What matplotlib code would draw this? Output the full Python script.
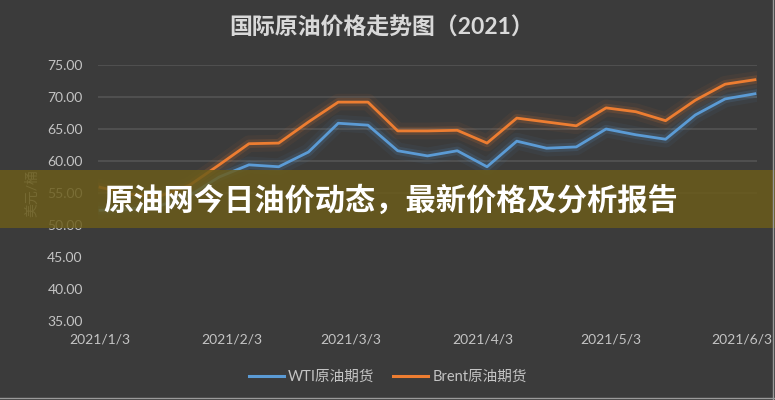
import pandas as pd
import matplotlib.pyplot as plt
import matplotlib.patheffects as pe
from matplotlib.lines import Line2D
from matplotlib.patches import Rectangle

plt.rcParams['font.family'] = ['Lato', 'Noto Sans CJK SC', 'DejaVu Sans']

# weekly closing prices, USD per barrel
dates = ['2021-01-03', '2021-01-10', '2021-01-17', '2021-01-24', '2021-01-31',
         '2021-02-07', '2021-02-14', '2021-02-21', '2021-02-28', '2021-03-07',
         '2021-03-14', '2021-03-21', '2021-03-28', '2021-04-04', '2021-04-11',
         '2021-04-18', '2021-04-25', '2021-05-02', '2021-05-09', '2021-05-16',
         '2021-05-23', '2021-05-30', '2021-06-06']
wti = [52.3, 52.5, 53.0, 54.6, 57.5, 59.4, 59.1, 61.4, 65.9, 65.6, 61.6, 60.8,
       61.6, 59.1, 63.1, 62.0, 62.2, 65.0, 64.1, 63.4, 67.2, 69.7, 70.5]
brent = [55.9, 54.8, 54.5, 56.2, 59.4, 62.7, 62.8, 66.1, 69.2, 69.2, 64.7, 64.7,
         64.8, 62.8, 66.7, 66.1, 65.5, 68.3, 67.7, 66.3, 69.5, 72.0, 72.7]

tick_dates = ['2021-01-03', '2021-02-03', '2021-03-03', '2021-04-03',
              '2021-05-03', '2021-06-03']
tick_labels = ['2021/1/3', '2021/2/3', '2021/3/3', '2021/4/3', '2021/5/3', '2021/6/3']
y_ticks = [35, 40, 45, 50, 55, 60, 65, 70, 75]

bg = '#3b3b3b'
text_col = '#c4c4c4'
blue = '#5b9bd5'
orange = '#ed7d31'

x = pd.to_datetime(dates)

fig = plt.figure(figsize=(7.75, 4), dpi=100, facecolor=bg)
ax = fig.add_axes([98 / 775, 1 - 321 / 400, 659 / 775, 256 / 400], facecolor=bg)

for values, col in [(wti, blue), (brent, orange)]:
    ax.plot(x, values, color=col, lw=2.0, solid_joinstyle='round', zorder=3,
            path_effects=[pe.Stroke(linewidth=12, foreground=col, alpha=0.06),
                          pe.Stroke(linewidth=6, foreground=col, alpha=0.15),
                          pe.Normal()])

ax.set_ylim(35, 75)
ax.set_xlim(x[0] - pd.Timedelta(hours=12), x[-1] + pd.Timedelta(hours=12))
ax.set_yticks(y_ticks)
ax.set_yticklabels([f'{v:.2f}' for v in y_ticks])
ax.set_xticks(pd.to_datetime(tick_dates))
ax.set_xticklabels(tick_labels)
ax.tick_params(axis='both', length=0, colors=text_col, labelsize=10)
ax.tick_params(axis='y', pad=11)
ax.tick_params(axis='x', pad=9)
for s in ax.spines.values():
    s.set_visible(False)

# only the upper grid lines are visible in the source
for v in y_ticks:
    if v >= 55:
        ax.axhline(v, color='#545454', lw=1.2, zorder=1)

fig.text(382 / 775, 1 - 28 / 400, '国际原油价格走势图（2021）', ha='center', va='center',
         color='#d9d9d9', fontsize=16.5, fontweight='bold')
fig.text(32 / 775, 1 - 193 / 400, '美元/桶', rotation=90, ha='center', va='center',
         color='#b0b0b0', fontsize=10)

handles = [Line2D([], [], color=blue, lw=2.2), Line2D([], [], color=orange, lw=2.2)]
fig.legend(handles, ['WTI原油期货', 'Brent原油期货'], loc='center',
           bbox_to_anchor=(388 / 775, 1 - 377 / 400), ncol=2, frameon=False,
           fontsize=10.5, labelcolor=text_col, handlelength=2.4, handletextpad=0.3,
           columnspacing=1.3)

# banner across the chart
fig.add_artist(Rectangle((0, 1 - 228 / 400), 1, 58 / 400, transform=fig.transFigure,
                         facecolor='#6b5c1a', alpha=0.84, edgecolor='none', zorder=5))
fig.text(103 / 775, 1 - 200 / 400, '原油网今日油价动态，最新价格及分析报告', ha='left',
         va='center', color='white', fontsize=21.8, fontweight='bold', zorder=6)

# thin frame on the right and bottom edge
fig.add_artist(Line2D([773 / 775, 773 / 775], [0, 1], color='#9a9a9a', lw=1,
                      transform=fig.transFigure, zorder=7))
fig.add_artist(Line2D([0, 1], [2 / 400, 2 / 400], color='#9a9a9a', lw=1,
                      transform=fig.transFigure, zorder=7))

fig.savefig('out.png', dpi=100, facecolor=bg)
